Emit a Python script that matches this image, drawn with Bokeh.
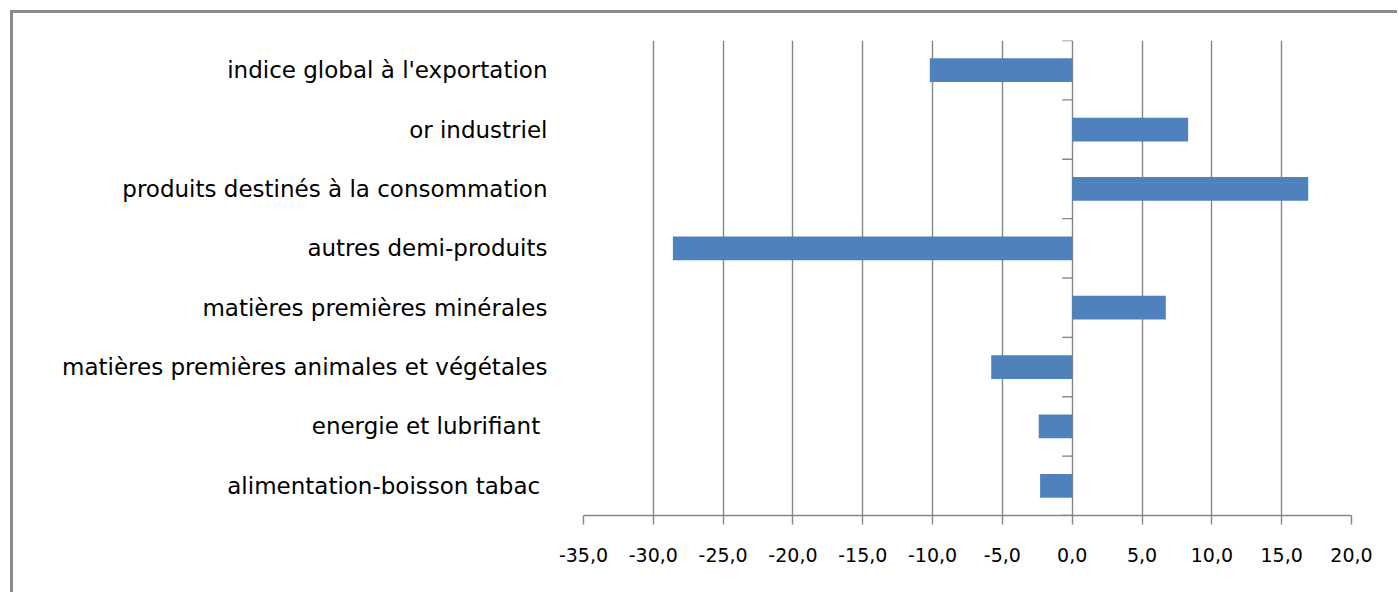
from bokeh.plotting import figure
from bokeh.models import Range1d, FixedTicker, InlineStyleSheet
from bokeh.embed import file_html
from bokeh.resources import INLINE

categories = [
    "alimentation-boisson tabac ",
    "energie et lubrifiant ",
    "matières premières animales et végétales",
    "matières premières minérales",
    "autres demi-produits",
    "produits destinés à la consommation",
    "or industriel",
    "indice global à l'exportation",
]
values = [-2.3, -2.4, -5.8, 6.7, -28.6, 16.9, 8.3, -10.2]
x_ticks = [-35, -30, -25, -20, -15, -10, -5, 0, 5, 10, 15, 20]
x_tick_labels = ["-35,0", "-30,0", "-25,0", "-20,0", "-15,0", "-10,0", "-5,0",
                 "0,0", "5,0", "10,0", "15,0", "20,0"]

GRAY = "#868686"
BAR = "#4F81BD"
FONT = "DejaVu Sans"

n = len(categories)
ypos = list(range(n))

frame_css = InlineStyleSheet(css="""
:host::after {
  content: '';
  position: absolute;
  left: 10px; top: 10px; right: 0px; bottom: 0px;
  border-top: 3px solid #8a8a8a;
  border-left: 3px solid #8a8a8a;
  pointer-events: none;
}
""")

p = figure(width=1397, height=592, output_backend="svg", toolbar_location=None,
           x_range=Range1d(x_ticks[0], x_ticks[-1]), y_range=Range1d(-0.5, n - 0.5),
           min_border_left=583, min_border_right=46, min_border_top=40,
           min_border_bottom=77, stylesheets=[frame_css])
p.outline_line_color = None
p.background_fill_color = "white"
p.border_fill_color = "white"

# grid
p.xgrid.ticker = FixedTicker(ticks=x_ticks)
p.xgrid.grid_line_color = GRAY
p.xgrid.grid_line_width = 1.4
p.ygrid.grid_line_color = None

# bars
p.hbar(y=ypos, left=0, right=values, height=0.4, fill_color=BAR, line_color=None)

# category axis line at zero with boundary ticks
bounds = [k - 0.5 for k in range(n + 1)]
tick_len = 10 * (x_ticks[-1] - x_ticks[0]) / 768
p.segment(x0=[-tick_len] * len(bounds), x1=[0] * len(bounds), y0=bounds, y1=bounds,
          line_color=GRAY, line_width=1.4)

# x axis
xa = p.xaxis[0]
xa.ticker = FixedTicker(ticks=x_ticks)
xa.major_label_overrides = {t: l for t, l in zip(x_ticks, x_tick_labels)}
xa.axis_line_color = GRAY
xa.axis_line_width = 1.4
xa.major_tick_line_color = GRAY
xa.major_tick_line_width = 1.4
xa.major_tick_in = 0
xa.major_tick_out = 9
xa.minor_tick_line_color = None
xa.major_label_text_font = FONT
xa.major_label_text_font_size = "19px"
xa.major_label_text_color = "#000000"
xa.major_label_standoff = 23

# y axis (category labels)
ya = p.yaxis[0]
ya.ticker = FixedTicker(ticks=ypos)
ya.major_label_overrides = {i: c for i, c in zip(ypos, categories)}
ya.axis_line_color = None
ya.major_tick_line_color = None
ya.minor_tick_line_color = None
ya.major_label_text_font = FONT
ya.major_label_text_font_size = "23px"
ya.major_label_text_color = "#000000"
ya.major_label_standoff = 30

open("out.html", "w").write(file_html(p, INLINE))
